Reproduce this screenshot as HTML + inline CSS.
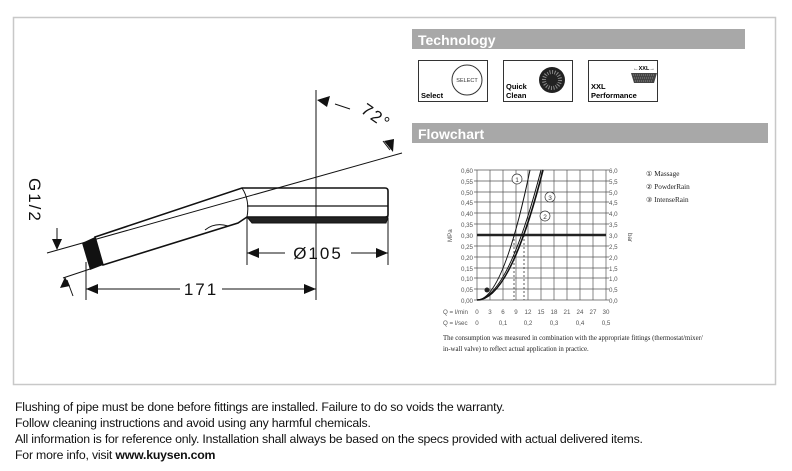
<!DOCTYPE html>
<html><head><meta charset="utf-8"><style>
body{margin:0;background:#fff;width:792px;height:471px;overflow:hidden;position:relative;font-family:"Liberation Sans",sans-serif}
.ft{position:absolute;left:15px;font-size:12.3px;color:#111;letter-spacing:-0.2px;white-space:nowrap}
</style></head><body>
<svg width="792" height="471" style="position:absolute;left:0;top:0" font-family="Liberation Sans, sans-serif">
<rect x="13.5" y="17.5" width="762" height="367" fill="none" stroke="#c8c8c8" stroke-width="1.5"/>
<rect x="412" y="29" width="333" height="20" fill="#a8a8a8"/>
<text x="418" y="45" font-size="14" font-weight="bold" fill="#fff">Technology</text>
<rect x="412" y="123" width="356" height="20" fill="#a8a8a8"/>
<text x="418" y="139" font-size="14" font-weight="bold" fill="#fff">Flowchart</text>
<g stroke="#333" fill="none" stroke-width="1">
<rect x="418.5" y="60.5" width="69" height="41"/>
<rect x="503.5" y="60.5" width="69" height="41"/>
<rect x="588.5" y="60.5" width="69" height="41"/>
<circle cx="467" cy="80" r="15"/>
</g>
<text x="467" y="82" font-size="5.5" text-anchor="middle" fill="#333">SELECT</text>
<text x="421" y="98" font-size="7.5" font-weight="bold">Select</text>
<circle cx="552" cy="80" r="13" fill="#222"/>
<circle cx="552" cy="80" r="8" fill="none" stroke="#888" stroke-width="4" stroke-dasharray="1 1.5"/>
<text x="543" y="74" font-size="8" fill="#222">✦</text>
<text x="506" y="89" font-size="7.5" font-weight="bold">Quick</text>
<text x="506" y="98" font-size="7.5" font-weight="bold">Clean</text>
<text x="644" y="70" font-size="5.5" text-anchor="middle" font-weight="bold">←XXL→</text>
<path d="M631 73 L657 73 L654 83 L634 83 Z" fill="#444"/>
<path d="M633 75 H655 M634 78 H654 M635 81 H653" stroke="#ccc" stroke-width="0.6" stroke-dasharray="1 1"/>
<text x="591" y="89" font-size="7.5" font-weight="bold">XXL</text>
<text x="591" y="98" font-size="7.5" font-weight="bold">Performance</text>
<g stroke="#555" stroke-width="0.7">
<line x1="477" y1="170" x2="477" y2="300"/><line x1="490" y1="170" x2="490" y2="300"/><line x1="503" y1="170" x2="503" y2="300"/><line x1="516" y1="170" x2="516" y2="300"/><line x1="528" y1="170" x2="528" y2="300"/><line x1="541" y1="170" x2="541" y2="300"/><line x1="554" y1="170" x2="554" y2="300"/><line x1="567" y1="170" x2="567" y2="300"/><line x1="580" y1="170" x2="580" y2="300"/><line x1="593" y1="170" x2="593" y2="300"/><line x1="606" y1="170" x2="606" y2="300"/>
<line x1="474" y1="170" x2="609" y2="170"/><line x1="474" y1="181" x2="609" y2="181"/><line x1="474" y1="192" x2="609" y2="192"/><line x1="474" y1="202" x2="609" y2="202"/><line x1="474" y1="213" x2="609" y2="213"/><line x1="474" y1="224" x2="609" y2="224"/><line x1="474" y1="246" x2="609" y2="246"/><line x1="474" y1="257" x2="609" y2="257"/><line x1="474" y1="268" x2="609" y2="268"/><line x1="474" y1="278" x2="609" y2="278"/><line x1="474" y1="289" x2="609" y2="289"/><line x1="474" y1="300" x2="609" y2="300"/>
</g>
<line x1="477" y1="235" x2="606" y2="235" stroke="#222" stroke-width="2.5"/>
<g stroke="#333" stroke-width="0.8" stroke-dasharray="2 2"><line x1="514" y1="235" x2="514" y2="300"/><line x1="524" y1="235" x2="524" y2="300"/></g>
<g fill="none" stroke="#111">
<path d="M477 300 Q503 300 530 170" stroke-width="1"/>
<path d="M477 300 Q510 300 543 170" stroke-width="1.6"/>
<path d="M477 300 Q508 298 541 170" stroke-width="1"/>
</g>
<circle cx="487" cy="290" r="2.5" fill="#222"/>
<g fill="#fff" stroke="#333" stroke-width="0.7"><circle cx="517" cy="179" r="5"/><circle cx="550" cy="197" r="5"/><circle cx="545" cy="216" r="5"/></g>
<g font-size="6.5" text-anchor="middle" fill="#333"><text x="517" y="182">1</text><text x="550" y="200">3</text><text x="545" y="219">2</text></g>
<g font-size="6.2" fill="#555" text-anchor="end">
<text x="473" y="173">0,60</text><text x="473" y="184">0,55</text><text x="473" y="195">0,50</text><text x="473" y="205">0,45</text><text x="473" y="216">0,40</text><text x="473" y="227">0,35</text><text x="473" y="238">0,30</text><text x="473" y="249">0,25</text><text x="473" y="260">0,20</text><text x="473" y="271">0,15</text><text x="473" y="281">0,10</text><text x="473" y="292">0,05</text><text x="473" y="303">0,00</text>
</g>
<g font-size="6.2" fill="#555">
<text x="609" y="173">6,0</text><text x="609" y="184">5,5</text><text x="609" y="195">5,0</text><text x="609" y="205">4,5</text><text x="609" y="216">4,0</text><text x="609" y="227">3,5</text><text x="609" y="238">3,0</text><text x="609" y="249">2,5</text><text x="609" y="260">2,0</text><text x="609" y="271">1,5</text><text x="609" y="281">1,0</text><text x="609" y="292">0,5</text><text x="609" y="303">0,0</text>
<text x="0" y="0" transform="translate(452,242) rotate(-90)">MPa</text>
<text x="0" y="0" transform="translate(628,233) rotate(90)">bar</text>
<text x="443" y="314">Q = l/min</text><text x="443" y="325">Q = l/sec</text>
</g>
<g font-size="6.2" fill="#555" text-anchor="middle">
<text x="477" y="314">0</text><text x="490" y="314">3</text><text x="503" y="314">6</text><text x="516" y="314">9</text><text x="528" y="314">12</text><text x="541" y="314">15</text><text x="554" y="314">18</text><text x="567" y="314">21</text><text x="580" y="314">24</text><text x="593" y="314">27</text><text x="606" y="314">30</text>
<text x="477" y="325">0</text><text x="503" y="325">0,1</text><text x="528" y="325">0,2</text><text x="554" y="325">0,3</text><text x="580" y="325">0,4</text><text x="606" y="325">0,5</text>
</g>
<g font-family="Liberation Serif, serif" font-size="7.2" fill="#222">
<text x="646" y="176">① Massage</text><text x="646" y="189">② PowderRain</text><text x="646" y="202">③ IntenseRain</text>
<text x="443" y="340" font-size="6.8">The consumption was measured in combination with the appropriate fittings (thermostat/mixer/</text>
<text x="443" y="351" font-size="6.8">in-wall valve) to reflect actual application in practice.</text>
</g>
<g stroke="#111" fill="none" stroke-width="1">
<line x1="316" y1="90" x2="316" y2="300"/>
<line x1="47" y1="253" x2="402" y2="153"/>
<line x1="63" y1="278" x2="90" y2="269"/>
<line x1="335" y1="104" x2="350" y2="109"/>
<line x1="383" y1="141" x2="390" y2="150"/>
<path d="M95 237 L242 188 L385 188 Q388 188 388 191 L388 215 Q388 217 385 217 L247 217 L238 223 L103 265 Z" stroke-width="1.6"/>
<path d="M242 188 Q250 200 247 217" />
<path d="M205 230 Q215 222 228 226"/>
<line x1="247" y1="206" x2="388" y2="206" stroke-width="1.2"/>
<path d="M247 217 L388 217 L386 223 L252 223 Z" fill="#222"/>
<line x1="247" y1="218" x2="247" y2="265"/><line x1="388" y1="218" x2="388" y2="265"/>
<line x1="86" y1="262" x2="86" y2="300"/>
<line x1="247" y1="253" x2="285" y2="253"/><line x1="351" y1="253" x2="388" y2="253"/>
<line x1="86" y1="289" x2="180" y2="289"/><line x1="222" y1="289" x2="316" y2="289"/>
<line x1="57" y1="228" x2="57" y2="245"/>
<line x1="67" y1="280" x2="73" y2="296"/>
</g>
<path d="M82 243 L95 237 L103 265 L90 270 Z" fill="#111"/>
<g fill="#111">
<path d="M247 253 L259 248 L259 258 Z"/><path d="M388 253 L376 248 L376 258 Z"/>
<path d="M86 289 L98 284 L98 294 Z"/><path d="M316 289 L304 284 L304 294 Z"/>
<path d="M317 100 L330 96 L327 107 Z"/><path d="M393 152 L384 141 L394 139 Z"/>
<path d="M57 250 L52 239 L62 239 Z"/><path d="M65 277 L60 288 L70 286 Z"/>
</g>
<g font-size="17" fill="#111" letter-spacing="2">
<text x="318" y="259" text-anchor="middle">Ø105</text>
<text x="201" y="295" text-anchor="middle">171</text>
<text transform="translate(360,112) rotate(35)">72°</text>
<text transform="translate(29,178) rotate(90)">G1/2</text>
</g>
</svg>
<div class="ft" style="top:400px">Flushing of pipe must be done before fittings are installed. Failure to do so voids the warranty.</div>
<div class="ft" style="top:416px">Follow cleaning instructions and avoid using any harmful chemicals.</div>
<div class="ft" style="top:432px">All information is for reference only. Installation shall always be based on the specs provided with actual delivered items.</div>
<div class="ft" style="top:448px">For more info, visit <b>www.kuysen.com</b></div>
</body></html>
